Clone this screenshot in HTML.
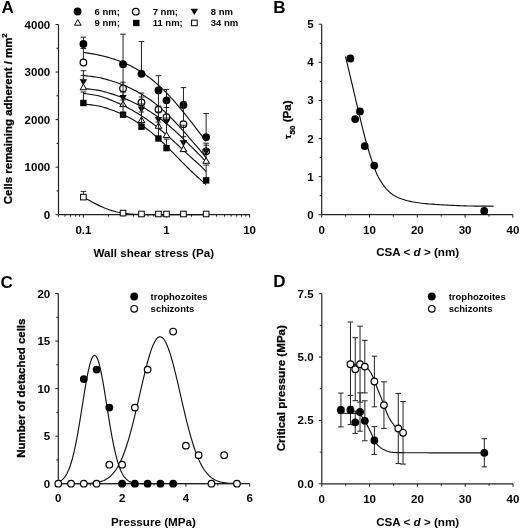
<!DOCTYPE html>
<html><head><meta charset="utf-8"><style>
html,body{margin:0;padding:0;background:#fff;}
svg{display:block;will-change:transform;}
text{font-family:"Liberation Sans", sans-serif;fill:#000;}
</style></head><body>
<svg width="520" height="529" viewBox="0 0 520 529">
<rect width="520" height="529" fill="#fff"/>
<line x1="58.50" y1="24.50" x2="58.50" y2="214.70" stroke="#222" stroke-width="1.2"/>
<line x1="58.50" y1="214.70" x2="250.00" y2="214.70" stroke="#222" stroke-width="1.2"/>
<line x1="55.50" y1="214.70" x2="58.50" y2="214.70" stroke="#222" stroke-width="1.0"/>
<line x1="56.50" y1="190.92" x2="58.50" y2="190.92" stroke="#222" stroke-width="1.0"/>
<line x1="55.50" y1="167.15" x2="58.50" y2="167.15" stroke="#222" stroke-width="1.0"/>
<line x1="56.50" y1="143.38" x2="58.50" y2="143.38" stroke="#222" stroke-width="1.0"/>
<line x1="55.50" y1="119.60" x2="58.50" y2="119.60" stroke="#222" stroke-width="1.0"/>
<line x1="56.50" y1="95.82" x2="58.50" y2="95.82" stroke="#222" stroke-width="1.0"/>
<line x1="55.50" y1="72.05" x2="58.50" y2="72.05" stroke="#222" stroke-width="1.0"/>
<line x1="56.50" y1="48.27" x2="58.50" y2="48.27" stroke="#222" stroke-width="1.0"/>
<line x1="55.50" y1="24.50" x2="58.50" y2="24.50" stroke="#222" stroke-width="1.0"/>
<text x="50.20" y="218.70" font-size="11.5" font-weight="bold" text-anchor="end">0</text>
<text x="50.20" y="171.15" font-size="11.5" font-weight="bold" text-anchor="end">1000</text>
<text x="50.20" y="123.60" font-size="11.5" font-weight="bold" text-anchor="end">2000</text>
<text x="50.20" y="76.05" font-size="11.5" font-weight="bold" text-anchor="end">3000</text>
<text x="50.20" y="28.50" font-size="11.5" font-weight="bold" text-anchor="end">4000</text>
<line x1="58.38" y1="214.70" x2="58.38" y2="216.70" stroke="#222" stroke-width="1.0"/>
<line x1="64.96" y1="214.70" x2="64.96" y2="216.70" stroke="#222" stroke-width="1.0"/>
<line x1="70.53" y1="214.70" x2="70.53" y2="216.70" stroke="#222" stroke-width="1.0"/>
<line x1="75.35" y1="214.70" x2="75.35" y2="216.70" stroke="#222" stroke-width="1.0"/>
<line x1="79.60" y1="214.70" x2="79.60" y2="216.70" stroke="#222" stroke-width="1.0"/>
<line x1="83.40" y1="214.70" x2="83.40" y2="217.70" stroke="#222" stroke-width="1.0"/>
<line x1="108.42" y1="214.70" x2="108.42" y2="216.70" stroke="#222" stroke-width="1.0"/>
<line x1="123.05" y1="214.70" x2="123.05" y2="216.70" stroke="#222" stroke-width="1.0"/>
<line x1="133.43" y1="214.70" x2="133.43" y2="216.70" stroke="#222" stroke-width="1.0"/>
<line x1="141.48" y1="214.70" x2="141.48" y2="216.70" stroke="#222" stroke-width="1.0"/>
<line x1="148.06" y1="214.70" x2="148.06" y2="216.70" stroke="#222" stroke-width="1.0"/>
<line x1="153.63" y1="214.70" x2="153.63" y2="216.70" stroke="#222" stroke-width="1.0"/>
<line x1="158.45" y1="214.70" x2="158.45" y2="216.70" stroke="#222" stroke-width="1.0"/>
<line x1="162.70" y1="214.70" x2="162.70" y2="216.70" stroke="#222" stroke-width="1.0"/>
<line x1="166.50" y1="214.70" x2="166.50" y2="217.70" stroke="#222" stroke-width="1.0"/>
<line x1="191.52" y1="214.70" x2="191.52" y2="216.70" stroke="#222" stroke-width="1.0"/>
<line x1="206.15" y1="214.70" x2="206.15" y2="216.70" stroke="#222" stroke-width="1.0"/>
<line x1="216.53" y1="214.70" x2="216.53" y2="216.70" stroke="#222" stroke-width="1.0"/>
<line x1="224.58" y1="214.70" x2="224.58" y2="216.70" stroke="#222" stroke-width="1.0"/>
<line x1="231.16" y1="214.70" x2="231.16" y2="216.70" stroke="#222" stroke-width="1.0"/>
<line x1="236.73" y1="214.70" x2="236.73" y2="216.70" stroke="#222" stroke-width="1.0"/>
<line x1="241.55" y1="214.70" x2="241.55" y2="216.70" stroke="#222" stroke-width="1.0"/>
<line x1="245.80" y1="214.70" x2="245.80" y2="216.70" stroke="#222" stroke-width="1.0"/>
<line x1="249.60" y1="214.70" x2="249.60" y2="217.70" stroke="#222" stroke-width="1.0"/>
<text x="83.40" y="233.70" font-size="11.5" font-weight="bold" text-anchor="middle">0.1</text>
<text x="166.50" y="233.70" font-size="11.5" font-weight="bold" text-anchor="middle">1</text>
<text x="249.60" y="233.70" font-size="11.5" font-weight="bold" text-anchor="middle">10</text>
<text x="153.80" y="256.50" font-size="11.65" font-weight="bold" text-anchor="middle">Wall shear stress (Pa)</text>
<text x="12.40" y="118.70" font-size="11.45" font-weight="bold" text-anchor="middle" transform="rotate(-90 12.40 118.70)" stroke="#000" stroke-width="0.3">Cells remaining adherent / mm<tspan dy="-5.5" font-size="8">2</tspan></text>
<text x="1.60" y="13.40" font-size="17" font-weight="bold" text-anchor="start">A</text>
<circle cx="77.60" cy="11.50" r="3.90" fill="#000"/>
<circle cx="135.80" cy="11.70" r="3.30" fill="#fff" stroke="#000" stroke-width="1.2"/>
<path d="M190.60,8.80 L198.00,8.80 L194.30,15.00 Z" fill="#000"/>
<path d="M77.80,19.60 L81.10,25.20 L74.50,25.20 Z" fill="#fff" stroke="#000" stroke-width="1" stroke-linejoin="miter"/>
<rect x="133.10" y="19.80" width="6.4" height="6.4" fill="#000"/>
<rect x="191.60" y="20.10" width="5.6" height="5.6" fill="#fff" stroke="#000" stroke-width="1"/>
<text x="94.60" y="14.80" font-size="9.5" font-weight="bold" text-anchor="start">6 nm;</text>
<text x="152.70" y="14.80" font-size="9.5" font-weight="bold" text-anchor="start">7 nm;</text>
<text x="210.80" y="14.80" font-size="9.5" font-weight="bold" text-anchor="start">8 nm</text>
<text x="94.60" y="25.80" font-size="9.5" font-weight="bold" text-anchor="start">9 nm;</text>
<text x="152.70" y="25.80" font-size="9.5" font-weight="bold" text-anchor="start">11 nm;</text>
<text x="210.80" y="25.80" font-size="9.5" font-weight="bold" text-anchor="start">34 nm</text>
<path d="M83.40,52.46 L84.93,52.68 L86.47,52.90 L88.00,53.13 L89.54,53.38 L91.07,53.63 L92.61,53.90 L94.14,54.18 L95.67,54.47 L97.21,54.78 L98.74,55.10 L100.28,55.43 L101.81,55.78 L103.35,56.14 L104.88,56.52 L106.42,56.92 L107.95,57.33 L109.48,57.76 L111.02,58.21 L112.55,58.68 L114.09,59.17 L115.62,59.68 L117.16,60.21 L118.69,60.77 L120.22,61.34 L121.76,61.94 L123.29,62.57 L124.83,63.22 L126.36,63.89 L127.90,64.60 L129.43,65.33 L130.97,66.08 L132.50,66.87 L134.03,67.69 L135.57,68.54 L137.10,69.41 L138.64,70.32 L140.17,71.27 L141.71,72.24 L143.24,73.25 L144.77,74.30 L146.31,75.38 L147.84,76.49 L149.38,77.64 L150.91,78.82 L152.45,80.05 L153.98,81.30 L155.51,82.60 L157.05,83.93 L158.58,85.30 L160.12,86.70 L161.65,88.15 L163.19,89.62 L164.72,91.14 L166.26,92.69 L167.79,94.27 L169.32,95.89 L170.86,97.54 L172.39,99.22 L173.93,100.94 L175.46,102.68 L177.00,104.46 L178.53,106.26 L180.06,108.09 L181.60,109.94 L183.13,111.82 L184.67,113.71 L186.20,115.63 L187.74,117.56 L189.27,119.51 L190.81,121.47 L192.34,123.45 L193.87,125.43 L195.41,127.42 L196.94,129.41 L198.48,131.41 L200.01,133.40 L201.55,135.39 L203.08,137.38 L204.61,139.36 L206.15,141.34" fill="none" stroke="#111" stroke-width="1.15"/>
<path d="M83.40,75.54 L84.93,75.70 L86.47,75.86 L88.00,76.03 L89.54,76.22 L91.07,76.41 L92.61,76.61 L94.14,76.82 L95.67,77.05 L97.21,77.28 L98.74,77.53 L100.28,77.80 L101.81,78.18 L103.35,78.57 L104.88,78.98 L106.42,79.40 L107.95,79.83 L109.48,80.28 L111.02,80.75 L112.55,81.23 L114.09,81.72 L115.62,82.24 L117.16,82.77 L118.69,83.32 L120.22,83.89 L121.76,84.48 L123.29,85.09 L124.83,85.72 L126.36,86.37 L127.90,87.05 L129.43,87.74 L130.97,88.46 L132.50,89.21 L134.03,89.98 L135.57,90.78 L137.10,91.60 L138.64,92.45 L140.17,93.33 L141.71,94.24 L143.24,95.18 L144.77,96.15 L146.31,97.15 L147.84,98.18 L149.38,99.24 L150.91,100.34 L152.45,101.47 L153.98,102.63 L155.51,103.83 L157.05,105.06 L158.58,106.32 L160.12,107.62 L161.65,108.95 L163.19,110.31 L164.72,111.71 L166.26,113.14 L167.79,114.60 L169.32,116.09 L170.86,117.61 L172.39,119.17 L173.93,120.75 L175.46,122.35 L177.00,123.99 L178.53,125.64 L180.06,127.32 L181.60,129.02 L183.13,130.74 L184.67,132.47 L186.20,134.22 L187.74,135.99 L189.27,137.76 L190.81,139.54 L192.34,141.32 L193.87,143.11 L195.41,144.89 L196.94,146.68 L198.48,148.46 L200.01,150.23 L201.55,152.11 L203.08,153.96 L204.61,155.81 L206.15,157.64" fill="none" stroke="#111" stroke-width="1.15"/>
<path d="M83.40,88.45 L84.93,88.60 L86.47,88.76 L88.00,88.93 L89.54,89.11 L91.07,89.29 L92.61,89.49 L94.14,89.70 L95.67,89.91 L97.21,90.14 L98.74,90.37 L100.28,90.64 L101.81,91.04 L103.35,91.45 L104.88,91.87 L106.42,92.30 L107.95,92.74 L109.48,93.20 L111.02,93.67 L112.55,94.16 L114.09,94.66 L115.62,95.18 L117.16,95.71 L118.69,96.25 L120.22,96.81 L121.76,97.39 L123.29,97.98 L124.83,98.60 L126.36,99.22 L127.90,99.87 L129.43,100.54 L130.97,101.22 L132.50,101.93 L134.03,102.66 L135.57,103.40 L137.10,104.17 L138.64,104.96 L140.17,105.78 L141.71,106.61 L143.24,107.47 L144.77,108.36 L146.31,109.26 L147.84,110.20 L149.38,111.16 L150.91,112.14 L152.45,113.15 L153.98,114.19 L155.51,115.25 L157.05,116.34 L158.58,117.46 L160.12,118.60 L161.65,119.77 L163.19,120.97 L164.72,122.19 L166.26,123.44 L167.79,124.71 L169.32,126.01 L170.86,127.33 L172.39,128.67 L173.93,130.04 L175.46,131.43 L177.00,132.83 L178.53,134.26 L180.06,135.70 L181.60,137.16 L183.13,138.64 L184.67,140.12 L186.20,141.62 L187.74,143.13 L189.27,144.65 L190.81,146.17 L192.34,147.70 L193.87,149.23 L195.41,150.76 L196.94,152.28 L198.48,153.81 L200.01,155.33 L201.55,156.98 L203.08,158.62 L204.61,160.25 L206.15,161.86" fill="none" stroke="#111" stroke-width="1.15"/>
<path d="M83.40,93.39 L84.93,93.59 L86.47,93.79 L88.00,94.01 L89.54,94.24 L91.07,94.48 L92.61,94.73 L94.14,94.99 L95.67,95.26 L97.21,95.55 L98.74,95.85 L100.28,96.19 L101.81,96.71 L103.35,97.23 L104.88,97.77 L106.42,98.33 L107.95,98.90 L109.48,99.49 L111.02,100.09 L112.55,100.71 L114.09,101.35 L115.62,102.00 L117.16,102.67 L118.69,103.35 L120.22,104.06 L121.76,104.78 L123.29,105.52 L124.83,106.27 L126.36,107.05 L127.90,107.85 L129.43,108.66 L130.97,109.50 L132.50,110.36 L134.03,111.23 L135.57,112.13 L137.10,113.05 L138.64,113.99 L140.17,114.95 L141.71,115.94 L143.24,116.94 L144.77,117.97 L146.31,119.02 L147.84,120.10 L149.38,121.19 L150.91,122.31 L152.45,123.45 L153.98,124.62 L155.51,125.80 L157.05,127.01 L158.58,128.23 L160.12,129.48 L161.65,130.74 L163.19,132.03 L164.72,133.33 L166.26,134.65 L167.79,135.99 L169.32,137.34 L170.86,138.71 L172.39,140.09 L173.93,141.48 L175.46,142.88 L177.00,144.28 L178.53,145.70 L180.06,147.12 L181.60,148.55 L183.13,149.98 L184.67,151.40 L186.20,152.83 L187.74,154.26 L189.27,155.68 L190.81,157.09 L192.34,158.50 L193.87,159.90 L195.41,161.29 L196.94,162.66 L198.48,164.02 L200.01,165.37 L201.55,166.88 L203.08,168.38 L204.61,169.86 L206.15,171.31" fill="none" stroke="#111" stroke-width="1.15"/>
<path d="M83.40,103.98 L84.93,104.14 L86.47,104.31 L88.00,104.48 L89.54,104.67 L91.07,104.86 L92.61,105.07 L94.14,105.29 L95.67,105.52 L97.21,105.76 L98.74,106.02 L100.28,106.32 L101.81,106.76 L103.35,107.20 L104.88,107.67 L106.42,108.15 L107.95,108.65 L109.48,109.17 L111.02,109.70 L112.55,110.25 L114.09,110.83 L115.62,111.42 L117.16,112.03 L118.69,112.67 L120.22,113.32 L121.76,114.00 L123.29,114.71 L124.83,115.43 L126.36,116.19 L127.90,116.96 L129.43,117.77 L130.97,118.60 L132.50,119.46 L134.03,120.35 L135.57,121.27 L137.10,122.22 L138.64,123.19 L140.17,124.20 L141.71,125.24 L143.24,126.32 L144.77,127.42 L146.31,128.55 L147.84,129.72 L149.38,130.92 L150.91,132.15 L152.45,133.41 L153.98,134.70 L155.51,136.02 L157.05,137.37 L158.58,138.75 L160.12,140.16 L161.65,141.59 L163.19,143.04 L164.72,144.51 L166.26,146.01 L167.79,147.52 L169.32,149.05 L170.86,150.60 L172.39,152.15 L173.93,153.72 L175.46,155.29 L177.00,156.86 L178.53,158.44 L180.06,160.01 L181.60,161.58 L183.13,163.14 L184.67,164.69 L186.20,166.23 L187.74,167.75 L189.27,169.26 L190.81,170.75 L192.34,172.21 L193.87,173.65 L195.41,175.07 L196.94,176.45 L198.48,177.81 L200.01,179.14 L201.55,180.57 L203.08,181.98 L204.61,183.35 L206.15,184.68" fill="none" stroke="#111" stroke-width="1.15"/>
<path d="M83.40,197.11 L85.45,198.30 L87.49,199.47 L89.54,200.62 L91.58,201.74 L93.63,202.83 L95.67,203.88 L97.72,204.89 L99.77,205.86 L101.81,206.78 L103.86,207.66 L105.90,208.47 L107.95,209.24 L110.00,209.94 L112.04,210.59 L114.09,211.18 L116.13,211.71 L118.18,212.19 L120.22,212.61 L122.27,212.98 L124.32,213.30 L126.36,213.57 L128.41,213.80 L130.45,214.00 L132.50,214.16 L134.55,214.29 L136.59,214.39 L138.64,214.47 L140.68,214.53 L142.73,214.58 L144.77,214.62 L146.82,214.64 L148.87,214.66 L150.91,214.68 L152.96,214.68 L155.00,214.69 L157.05,214.69 L159.10,214.70 L161.14,214.70 L163.19,214.70 L165.23,214.70 L167.28,214.70 L169.32,214.70 L171.37,214.70 L173.42,214.70 L175.46,214.70 L177.51,214.70 L179.55,214.70 L181.60,214.70 L183.64,214.70 L185.69,214.70 L187.74,214.70 L189.78,214.70 L191.83,214.70 L193.87,214.70 L195.92,214.70 L197.97,214.70 L200.01,214.70 L202.06,214.70 L204.10,214.70 L206.15,214.70" fill="none" stroke="#111" stroke-width="1.15"/>
<line x1="83.40" y1="37.20" x2="83.40" y2="44.00" stroke="#222" stroke-width="1"/>
<line x1="80.60" y1="37.20" x2="86.20" y2="37.20" stroke="#222" stroke-width="1"/>
<line x1="123.05" y1="34.20" x2="123.05" y2="64.20" stroke="#222" stroke-width="1"/>
<line x1="120.25" y1="34.20" x2="125.85" y2="34.20" stroke="#222" stroke-width="1"/>
<line x1="141.48" y1="41.60" x2="141.48" y2="73.80" stroke="#222" stroke-width="1"/>
<line x1="138.68" y1="41.60" x2="144.28" y2="41.60" stroke="#222" stroke-width="1"/>
<line x1="158.45" y1="75.70" x2="158.45" y2="90.40" stroke="#222" stroke-width="1"/>
<line x1="155.65" y1="75.70" x2="161.25" y2="75.70" stroke="#222" stroke-width="1"/>
<line x1="166.50" y1="89.40" x2="166.50" y2="100.30" stroke="#222" stroke-width="1"/>
<line x1="163.70" y1="89.40" x2="169.30" y2="89.40" stroke="#222" stroke-width="1"/>
<line x1="183.46" y1="87.60" x2="183.46" y2="105.00" stroke="#222" stroke-width="1"/>
<line x1="180.66" y1="87.60" x2="186.26" y2="87.60" stroke="#222" stroke-width="1"/>
<line x1="206.15" y1="113.60" x2="206.15" y2="137.10" stroke="#222" stroke-width="1"/>
<line x1="203.35" y1="113.60" x2="208.95" y2="113.60" stroke="#222" stroke-width="1"/>
<circle cx="83.40" cy="44.00" r="3.90" fill="#000"/>
<circle cx="123.05" cy="64.20" r="3.90" fill="#000"/>
<circle cx="141.48" cy="73.80" r="3.90" fill="#000"/>
<circle cx="158.45" cy="90.40" r="3.90" fill="#000"/>
<circle cx="166.50" cy="100.30" r="3.90" fill="#000"/>
<circle cx="183.46" cy="105.00" r="3.90" fill="#000"/>
<circle cx="206.15" cy="137.10" r="3.90" fill="#000"/>
<line x1="83.40" y1="48.50" x2="83.40" y2="62.50" stroke="#222" stroke-width="1"/>
<line x1="80.60" y1="48.50" x2="86.20" y2="48.50" stroke="#222" stroke-width="1"/>
<line x1="123.05" y1="66.00" x2="123.05" y2="88.40" stroke="#222" stroke-width="1"/>
<line x1="120.25" y1="66.00" x2="125.85" y2="66.00" stroke="#222" stroke-width="1"/>
<line x1="141.48" y1="97.00" x2="141.48" y2="102.50" stroke="#222" stroke-width="1"/>
<line x1="138.68" y1="97.00" x2="144.28" y2="97.00" stroke="#222" stroke-width="1"/>
<line x1="158.45" y1="88.00" x2="158.45" y2="109.60" stroke="#222" stroke-width="1"/>
<line x1="155.65" y1="88.00" x2="161.25" y2="88.00" stroke="#222" stroke-width="1"/>
<line x1="166.50" y1="101.00" x2="166.50" y2="117.20" stroke="#222" stroke-width="1"/>
<line x1="163.70" y1="101.00" x2="169.30" y2="101.00" stroke="#222" stroke-width="1"/>
<line x1="183.46" y1="102.00" x2="183.46" y2="124.20" stroke="#222" stroke-width="1"/>
<line x1="180.66" y1="102.00" x2="186.26" y2="102.00" stroke="#222" stroke-width="1"/>
<line x1="206.15" y1="143.20" x2="206.15" y2="151.30" stroke="#222" stroke-width="1"/>
<line x1="203.35" y1="143.20" x2="208.95" y2="143.20" stroke="#222" stroke-width="1"/>
<circle cx="83.40" cy="62.50" r="3.30" fill="#fff" stroke="#000" stroke-width="1.2"/>
<circle cx="123.05" cy="88.40" r="3.30" fill="#fff" stroke="#000" stroke-width="1.2"/>
<circle cx="141.48" cy="102.50" r="3.30" fill="#fff" stroke="#000" stroke-width="1.2"/>
<circle cx="158.45" cy="109.60" r="3.30" fill="#fff" stroke="#000" stroke-width="1.2"/>
<circle cx="166.50" cy="117.20" r="3.30" fill="#fff" stroke="#000" stroke-width="1.2"/>
<circle cx="183.46" cy="124.20" r="3.30" fill="#fff" stroke="#000" stroke-width="1.2"/>
<circle cx="206.15" cy="151.30" r="3.30" fill="#fff" stroke="#000" stroke-width="1.2"/>
<line x1="83.40" y1="70.70" x2="83.40" y2="82.30" stroke="#222" stroke-width="1"/>
<line x1="80.60" y1="70.70" x2="86.20" y2="70.70" stroke="#222" stroke-width="1"/>
<line x1="123.05" y1="82.20" x2="123.05" y2="98.00" stroke="#222" stroke-width="1"/>
<line x1="120.25" y1="82.20" x2="125.85" y2="82.20" stroke="#222" stroke-width="1"/>
<line x1="141.48" y1="93.10" x2="141.48" y2="109.60" stroke="#222" stroke-width="1"/>
<line x1="138.68" y1="93.10" x2="144.28" y2="93.10" stroke="#222" stroke-width="1"/>
<line x1="158.45" y1="106.00" x2="158.45" y2="119.90" stroke="#222" stroke-width="1"/>
<line x1="155.65" y1="106.00" x2="161.25" y2="106.00" stroke="#222" stroke-width="1"/>
<line x1="166.50" y1="107.50" x2="166.50" y2="122.20" stroke="#222" stroke-width="1"/>
<line x1="163.70" y1="107.50" x2="169.30" y2="107.50" stroke="#222" stroke-width="1"/>
<line x1="183.46" y1="125.20" x2="183.46" y2="143.20" stroke="#222" stroke-width="1"/>
<line x1="180.66" y1="125.20" x2="186.26" y2="125.20" stroke="#222" stroke-width="1"/>
<line x1="206.15" y1="145.10" x2="206.15" y2="152.00" stroke="#222" stroke-width="1"/>
<line x1="203.35" y1="145.10" x2="208.95" y2="145.10" stroke="#222" stroke-width="1"/>
<path d="M79.70,79.30 L87.10,79.30 L83.40,85.50 Z" fill="#000"/>
<path d="M119.35,95.00 L126.75,95.00 L123.05,101.20 Z" fill="#000"/>
<path d="M137.78,106.60 L145.18,106.60 L141.48,112.80 Z" fill="#000"/>
<path d="M154.75,116.90 L162.15,116.90 L158.45,123.10 Z" fill="#000"/>
<path d="M162.80,119.20 L170.20,119.20 L166.50,125.40 Z" fill="#000"/>
<path d="M179.76,140.20 L187.16,140.20 L183.46,146.40 Z" fill="#000"/>
<path d="M202.45,149.00 L209.85,149.00 L206.15,155.20 Z" fill="#000"/>
<line x1="83.40" y1="75.30" x2="83.40" y2="87.20" stroke="#222" stroke-width="1"/>
<line x1="80.60" y1="75.30" x2="86.20" y2="75.30" stroke="#222" stroke-width="1"/>
<line x1="123.05" y1="92.00" x2="123.05" y2="104.00" stroke="#222" stroke-width="1"/>
<line x1="120.25" y1="92.00" x2="125.85" y2="92.00" stroke="#222" stroke-width="1"/>
<line x1="141.48" y1="104.00" x2="141.48" y2="119.90" stroke="#222" stroke-width="1"/>
<line x1="138.68" y1="104.00" x2="144.28" y2="104.00" stroke="#222" stroke-width="1"/>
<line x1="158.45" y1="112.00" x2="158.45" y2="125.70" stroke="#222" stroke-width="1"/>
<line x1="155.65" y1="112.00" x2="161.25" y2="112.00" stroke="#222" stroke-width="1"/>
<line x1="166.50" y1="118.00" x2="166.50" y2="135.00" stroke="#222" stroke-width="1"/>
<line x1="163.70" y1="118.00" x2="169.30" y2="118.00" stroke="#222" stroke-width="1"/>
<line x1="183.46" y1="136.70" x2="183.46" y2="149.00" stroke="#222" stroke-width="1"/>
<line x1="180.66" y1="136.70" x2="186.26" y2="136.70" stroke="#222" stroke-width="1"/>
<line x1="206.15" y1="150.00" x2="206.15" y2="160.70" stroke="#222" stroke-width="1"/>
<line x1="203.35" y1="150.00" x2="208.95" y2="150.00" stroke="#222" stroke-width="1"/>
<path d="M83.40,84.20 L86.70,89.80 L80.10,89.80 Z" fill="#fff" stroke="#000" stroke-width="1" stroke-linejoin="miter"/>
<path d="M123.05,101.00 L126.35,106.60 L119.75,106.60 Z" fill="#fff" stroke="#000" stroke-width="1" stroke-linejoin="miter"/>
<path d="M141.48,116.90 L144.78,122.50 L138.18,122.50 Z" fill="#fff" stroke="#000" stroke-width="1" stroke-linejoin="miter"/>
<path d="M158.45,122.70 L161.75,128.30 L155.15,128.30 Z" fill="#fff" stroke="#000" stroke-width="1" stroke-linejoin="miter"/>
<path d="M166.50,132.00 L169.80,137.60 L163.20,137.60 Z" fill="#fff" stroke="#000" stroke-width="1" stroke-linejoin="miter"/>
<path d="M183.46,146.00 L186.76,151.60 L180.16,151.60 Z" fill="#fff" stroke="#000" stroke-width="1" stroke-linejoin="miter"/>
<path d="M206.15,157.70 L209.45,163.30 L202.85,163.30 Z" fill="#fff" stroke="#000" stroke-width="1" stroke-linejoin="miter"/>
<line x1="83.40" y1="92.00" x2="83.40" y2="103.00" stroke="#222" stroke-width="1"/>
<line x1="80.60" y1="92.00" x2="86.20" y2="92.00" stroke="#222" stroke-width="1"/>
<line x1="123.05" y1="100.00" x2="123.05" y2="114.70" stroke="#222" stroke-width="1"/>
<line x1="120.25" y1="100.00" x2="125.85" y2="100.00" stroke="#222" stroke-width="1"/>
<line x1="141.48" y1="112.00" x2="141.48" y2="126.70" stroke="#222" stroke-width="1"/>
<line x1="138.68" y1="112.00" x2="144.28" y2="112.00" stroke="#222" stroke-width="1"/>
<line x1="158.45" y1="122.00" x2="158.45" y2="138.50" stroke="#222" stroke-width="1"/>
<line x1="155.65" y1="122.00" x2="161.25" y2="122.00" stroke="#222" stroke-width="1"/>
<line x1="166.50" y1="139.10" x2="166.50" y2="148.10" stroke="#222" stroke-width="1"/>
<line x1="163.70" y1="139.10" x2="169.30" y2="139.10" stroke="#222" stroke-width="1"/>
<line x1="206.15" y1="165.00" x2="206.15" y2="180.40" stroke="#222" stroke-width="1"/>
<line x1="203.35" y1="165.00" x2="208.95" y2="165.00" stroke="#222" stroke-width="1"/>
<rect x="80.20" y="99.80" width="6.4" height="6.4" fill="#000"/>
<rect x="119.85" y="111.50" width="6.4" height="6.4" fill="#000"/>
<rect x="138.28" y="123.50" width="6.4" height="6.4" fill="#000"/>
<rect x="155.25" y="135.30" width="6.4" height="6.4" fill="#000"/>
<rect x="163.30" y="144.90" width="6.4" height="6.4" fill="#000"/>
<rect x="202.95" y="177.20" width="6.4" height="6.4" fill="#000"/>
<line x1="83.40" y1="191.40" x2="83.40" y2="197.10" stroke="#222" stroke-width="1"/>
<line x1="80.60" y1="191.40" x2="86.20" y2="191.40" stroke="#222" stroke-width="1"/>
<rect x="80.60" y="194.30" width="5.6" height="5.6" fill="#fff" stroke="#000" stroke-width="1"/>
<rect x="120.25" y="210.30" width="5.6" height="5.6" fill="#fff" stroke="#000" stroke-width="1"/>
<rect x="138.68" y="211.20" width="5.6" height="5.6" fill="#fff" stroke="#000" stroke-width="1"/>
<rect x="155.65" y="211.20" width="5.6" height="5.6" fill="#fff" stroke="#000" stroke-width="1"/>
<rect x="163.70" y="211.20" width="5.6" height="5.6" fill="#fff" stroke="#000" stroke-width="1"/>
<rect x="180.66" y="211.20" width="5.6" height="5.6" fill="#fff" stroke="#000" stroke-width="1"/>
<rect x="203.35" y="211.20" width="5.6" height="5.6" fill="#fff" stroke="#000" stroke-width="1"/>
<line x1="321.70" y1="24.20" x2="321.70" y2="214.70" stroke="#222" stroke-width="1.2"/>
<line x1="321.70" y1="214.70" x2="512.90" y2="214.70" stroke="#222" stroke-width="1.2"/>
<line x1="318.70" y1="214.70" x2="321.70" y2="214.70" stroke="#222" stroke-width="1.0"/>
<line x1="319.70" y1="195.65" x2="321.70" y2="195.65" stroke="#222" stroke-width="1.0"/>
<line x1="318.70" y1="176.60" x2="321.70" y2="176.60" stroke="#222" stroke-width="1.0"/>
<line x1="319.70" y1="157.55" x2="321.70" y2="157.55" stroke="#222" stroke-width="1.0"/>
<line x1="318.70" y1="138.50" x2="321.70" y2="138.50" stroke="#222" stroke-width="1.0"/>
<line x1="319.70" y1="119.45" x2="321.70" y2="119.45" stroke="#222" stroke-width="1.0"/>
<line x1="318.70" y1="100.40" x2="321.70" y2="100.40" stroke="#222" stroke-width="1.0"/>
<line x1="319.70" y1="81.35" x2="321.70" y2="81.35" stroke="#222" stroke-width="1.0"/>
<line x1="318.70" y1="62.30" x2="321.70" y2="62.30" stroke="#222" stroke-width="1.0"/>
<line x1="319.70" y1="43.25" x2="321.70" y2="43.25" stroke="#222" stroke-width="1.0"/>
<line x1="318.70" y1="24.20" x2="321.70" y2="24.20" stroke="#222" stroke-width="1.0"/>
<text x="313.60" y="218.70" font-size="11.5" font-weight="bold" text-anchor="end">0</text>
<text x="313.60" y="180.60" font-size="11.5" font-weight="bold" text-anchor="end">1</text>
<text x="313.60" y="142.50" font-size="11.5" font-weight="bold" text-anchor="end">2</text>
<text x="313.60" y="104.40" font-size="11.5" font-weight="bold" text-anchor="end">3</text>
<text x="313.60" y="66.30" font-size="11.5" font-weight="bold" text-anchor="end">4</text>
<text x="313.60" y="28.20" font-size="11.5" font-weight="bold" text-anchor="end">5</text>
<line x1="321.70" y1="214.70" x2="321.70" y2="217.70" stroke="#222" stroke-width="1.0"/>
<line x1="345.60" y1="214.70" x2="345.60" y2="216.70" stroke="#222" stroke-width="1.0"/>
<line x1="369.50" y1="214.70" x2="369.50" y2="217.70" stroke="#222" stroke-width="1.0"/>
<line x1="393.40" y1="214.70" x2="393.40" y2="216.70" stroke="#222" stroke-width="1.0"/>
<line x1="417.30" y1="214.70" x2="417.30" y2="217.70" stroke="#222" stroke-width="1.0"/>
<line x1="441.20" y1="214.70" x2="441.20" y2="216.70" stroke="#222" stroke-width="1.0"/>
<line x1="465.10" y1="214.70" x2="465.10" y2="217.70" stroke="#222" stroke-width="1.0"/>
<line x1="489.00" y1="214.70" x2="489.00" y2="216.70" stroke="#222" stroke-width="1.0"/>
<line x1="512.90" y1="214.70" x2="512.90" y2="217.70" stroke="#222" stroke-width="1.0"/>
<text x="321.70" y="233.70" font-size="11.5" font-weight="bold" text-anchor="middle">0</text>
<text x="369.50" y="233.70" font-size="11.5" font-weight="bold" text-anchor="middle">10</text>
<text x="417.30" y="233.70" font-size="11.5" font-weight="bold" text-anchor="middle">20</text>
<text x="465.10" y="233.70" font-size="11.5" font-weight="bold" text-anchor="middle">30</text>
<text x="512.90" y="233.70" font-size="11.5" font-weight="bold" text-anchor="middle">40</text>
<text x="417.70" y="256.30" font-size="11.65" font-weight="bold" text-anchor="middle">CSA &lt; <tspan font-style="italic">d</tspan> &gt; (nm)</text>
<text x="291.00" y="119.80" font-size="11.65" font-weight="bold" text-anchor="middle" transform="rotate(-90 291.00 119.80)" stroke="#000" stroke-width="0.3"><tspan font-family="Liberation Serif" font-weight="bold" font-size="10.5">τ</tspan><tspan font-size="8" dy="4">50</tspan><tspan dy="-4"> (Pa)</tspan></text>
<text x="273.30" y="13.20" font-size="17" font-weight="bold" text-anchor="start">B</text>
<path d="M345.50,56.30 L345.80,57.57 L346.17,59.15 L346.61,61.01 L347.11,63.09 L347.64,65.35 L348.21,67.76 L348.80,70.25 L349.40,72.79 L350.00,75.33 L350.59,77.82 L351.16,80.23 L351.70,82.50 L352.21,84.67 L352.71,86.80 L353.21,88.92 L353.70,91.02 L354.19,93.13 L354.68,95.24 L355.18,97.38 L355.69,99.56 L356.22,101.77 L356.76,104.05 L357.32,106.38 L357.90,108.80 L358.51,111.33 L359.14,113.97 L359.80,116.72 L360.47,119.53 L361.16,122.39 L361.85,125.26 L362.55,128.13 L363.26,130.97 L363.96,133.75 L364.65,136.45 L365.33,139.04 L366.00,141.50 L366.66,143.86 L367.33,146.18 L368.00,148.45 L368.66,150.66 L369.33,152.82 L369.99,154.92 L370.64,156.95 L371.29,158.91 L371.93,160.81 L372.55,162.62 L373.16,164.35 L373.75,166.00 L374.31,167.54 L374.84,168.96 L375.33,170.27 L375.81,171.50 L376.27,172.65 L376.73,173.75 L377.21,174.80 L377.69,175.83 L378.21,176.85 L378.76,177.87 L379.35,178.92 L380.00,180.00 L380.69,181.11 L381.42,182.24 L382.18,183.37 L382.96,184.49 L383.77,185.61 L384.61,186.70 L385.47,187.78 L386.34,188.81 L387.24,189.81 L388.15,190.77 L389.07,191.66 L390.00,192.50 L390.94,193.27 L391.88,193.99 L392.83,194.66 L393.80,195.29 L394.78,195.87 L395.78,196.42 L396.81,196.94 L397.87,197.44 L398.96,197.91 L400.10,198.37 L401.28,198.81 L402.50,199.25 L403.76,199.67 L405.04,200.07 L406.35,200.44 L407.69,200.79 L409.06,201.11 L410.47,201.42 L411.92,201.71 L413.43,201.99 L414.98,202.26 L416.59,202.51 L418.26,202.76 L420.00,203.00 L421.82,203.23 L423.73,203.45 L425.72,203.65 L427.78,203.83 L429.88,204.01 L432.03,204.17 L434.20,204.33 L436.39,204.47 L438.57,204.61 L440.75,204.74 L442.89,204.87 L445.00,205.00 L447.09,205.12 L449.18,205.23 L451.28,205.34 L453.38,205.44 L455.48,205.53 L457.58,205.61 L459.67,205.69 L461.76,205.76 L463.84,205.83 L465.91,205.89 L467.96,205.95 L470.00,206.00 L472.10,206.05 L474.31,206.08 L476.58,206.11 L478.89,206.13 L481.19,206.15 L483.44,206.16 L485.60,206.17 L487.64,206.18 L489.51,206.18 L491.18,206.19 L492.61,206.19 L493.75,206.20" fill="none" stroke="#111" stroke-width="1.15"/>
<circle cx="350.38" cy="58.49" r="3.90" fill="#000"/>
<circle cx="355.16" cy="119.07" r="3.90" fill="#000"/>
<circle cx="359.94" cy="111.45" r="3.90" fill="#000"/>
<circle cx="364.72" cy="146.12" r="3.90" fill="#000"/>
<circle cx="374.28" cy="165.55" r="3.90" fill="#000"/>
<circle cx="484.22" cy="210.89" r="3.90" fill="#000"/>
<line x1="58.30" y1="293.50" x2="58.30" y2="483.70" stroke="#222" stroke-width="1.2"/>
<line x1="58.30" y1="483.70" x2="249.70" y2="483.70" stroke="#222" stroke-width="1.2"/>
<line x1="55.30" y1="483.70" x2="58.30" y2="483.70" stroke="#222" stroke-width="1.0"/>
<line x1="56.30" y1="459.93" x2="58.30" y2="459.93" stroke="#222" stroke-width="1.0"/>
<line x1="55.30" y1="436.15" x2="58.30" y2="436.15" stroke="#222" stroke-width="1.0"/>
<line x1="56.30" y1="412.38" x2="58.30" y2="412.38" stroke="#222" stroke-width="1.0"/>
<line x1="55.30" y1="388.60" x2="58.30" y2="388.60" stroke="#222" stroke-width="1.0"/>
<line x1="56.30" y1="364.82" x2="58.30" y2="364.82" stroke="#222" stroke-width="1.0"/>
<line x1="55.30" y1="341.05" x2="58.30" y2="341.05" stroke="#222" stroke-width="1.0"/>
<line x1="56.30" y1="317.27" x2="58.30" y2="317.27" stroke="#222" stroke-width="1.0"/>
<line x1="55.30" y1="293.50" x2="58.30" y2="293.50" stroke="#222" stroke-width="1.0"/>
<text x="50.20" y="487.70" font-size="11.5" font-weight="bold" text-anchor="end">0</text>
<text x="50.20" y="440.15" font-size="11.5" font-weight="bold" text-anchor="end">5</text>
<text x="50.20" y="392.60" font-size="11.5" font-weight="bold" text-anchor="end">10</text>
<text x="50.20" y="345.05" font-size="11.5" font-weight="bold" text-anchor="end">15</text>
<text x="50.20" y="297.50" font-size="11.5" font-weight="bold" text-anchor="end">20</text>
<line x1="58.30" y1="483.70" x2="58.30" y2="486.70" stroke="#222" stroke-width="1.0"/>
<line x1="90.20" y1="483.70" x2="90.20" y2="485.70" stroke="#222" stroke-width="1.0"/>
<line x1="122.10" y1="483.70" x2="122.10" y2="486.70" stroke="#222" stroke-width="1.0"/>
<line x1="154.00" y1="483.70" x2="154.00" y2="485.70" stroke="#222" stroke-width="1.0"/>
<line x1="185.90" y1="483.70" x2="185.90" y2="486.70" stroke="#222" stroke-width="1.0"/>
<line x1="217.80" y1="483.70" x2="217.80" y2="485.70" stroke="#222" stroke-width="1.0"/>
<line x1="249.70" y1="483.70" x2="249.70" y2="486.70" stroke="#222" stroke-width="1.0"/>
<text x="58.30" y="502.40" font-size="11.5" font-weight="bold" text-anchor="middle">0</text>
<text x="122.10" y="502.40" font-size="11.5" font-weight="bold" text-anchor="middle">2</text>
<text x="185.90" y="502.40" font-size="11.5" font-weight="bold" text-anchor="middle">4</text>
<text x="249.70" y="502.40" font-size="11.5" font-weight="bold" text-anchor="middle">6</text>
<text x="153.50" y="525.60" font-size="11.65" font-weight="bold" text-anchor="middle">Pressure (MPa)</text>
<text x="25.20" y="388.20" font-size="11.45" font-weight="bold" text-anchor="middle" transform="rotate(-90 25.20 388.20)" stroke="#000" stroke-width="0.3">Number of detached cells</text>
<text x="0.60" y="287.80" font-size="17" font-weight="bold" text-anchor="start">C</text>
<path d="M58.30,482.06 L58.76,481.87 L59.23,481.66 L59.69,481.43 L60.15,481.17 L60.61,480.89 L61.08,480.59 L61.54,480.25 L62.00,479.89 L62.46,479.49 L62.93,479.06 L63.39,478.59 L63.85,478.08 L64.31,477.53 L64.78,476.93 L65.24,476.29 L65.70,475.60 L66.16,474.85 L66.63,474.05 L67.09,473.20 L67.55,472.28 L68.01,471.31 L68.48,470.26 L68.94,469.16 L69.40,467.98 L69.86,466.73 L70.33,465.40 L70.79,464.01 L71.25,462.53 L71.71,460.98 L72.18,459.35 L72.64,457.63 L73.10,455.84 L73.56,453.97 L74.03,452.01 L74.49,449.97 L74.95,447.86 L75.41,445.66 L75.88,443.39 L76.34,441.04 L76.80,438.62 L77.26,436.13 L77.73,433.57 L78.19,430.95 L78.65,428.27 L79.11,425.54 L79.58,422.76 L80.04,419.94 L80.50,417.08 L80.96,414.19 L81.43,411.28 L81.89,408.36 L82.35,405.43 L82.82,402.50 L83.28,399.57 L83.74,396.67 L84.20,393.80 L84.67,390.96 L85.13,388.17 L85.59,385.43 L86.05,382.76 L86.52,380.16 L86.98,377.64 L87.44,375.22 L87.90,372.90 L88.37,370.70 L88.83,368.61 L89.29,366.65 L89.75,364.82 L90.22,363.14 L90.68,361.60 L91.14,360.22 L91.60,359.01 L92.07,357.96 L92.53,357.08 L92.99,356.37 L93.45,355.84 L93.92,355.50 L94.38,355.33 L94.84,355.35 L95.30,355.54 L95.77,355.92 L96.23,356.48 L96.69,357.22 L97.15,358.13 L97.62,359.20 L98.08,360.45 L98.54,361.86 L99.00,363.42 L99.47,365.12 L99.93,366.97 L100.39,368.96 L100.85,371.07 L101.32,373.30 L101.78,375.63 L102.24,378.07 L102.70,380.60 L103.17,383.21 L103.63,385.90 L104.09,388.64 L104.55,391.44 L105.02,394.29 L105.48,397.17 L105.94,400.08 L106.41,403.00 L106.87,405.93 L107.33,408.86 L107.79,411.79 L108.26,414.69 L108.72,417.58 L109.18,420.43 L109.64,423.24 L110.11,426.01 L110.57,428.74 L111.03,431.41 L111.49,434.02 L111.96,436.56 L112.42,439.04 L112.88,441.45 L113.34,443.78 L113.81,446.04 L114.27,448.23 L114.73,450.33 L115.19,452.35 L115.66,454.29 L116.12,456.16 L116.58,457.93 L117.04,459.63 L117.51,461.25 L117.97,462.79 L118.43,464.25 L118.89,465.64 L119.36,466.95 L119.82,468.19 L120.28,469.35 L120.74,470.45 L121.21,471.48 L121.67,472.45 L122.13,473.35 L122.59,474.20 L123.06,474.99 L123.52,475.72 L123.98,476.40 L124.44,477.04 L124.91,477.62 L125.37,478.17 L125.83,478.67 L126.29,479.13 L126.76,479.56 L127.22,479.95 L127.68,480.31 L128.15,480.64 L128.61,480.94 L129.07,481.22 L129.53,481.47 L130.00,481.70 L130.46,481.90 L130.92,482.09 L131.38,482.26 L131.85,482.42 L132.31,482.56 L132.77,482.68 L133.23,482.80 L133.70,482.90 L134.16,482.99 L134.62,483.07 L135.08,483.14 L135.55,483.21 L136.01,483.27 L136.47,483.32 L136.93,483.37 L137.40,483.41 L137.86,483.44 L138.32,483.47 L138.78,483.50 L139.25,483.53 L139.71,483.55 L140.17,483.57 L140.63,483.59 L141.10,483.60 L141.56,483.61 L142.02,483.63 L142.48,483.64 L142.95,483.65 L143.41,483.65 L143.87,483.66 L144.33,483.67 L144.80,483.67 L145.26,483.67 L145.72,483.68 L146.18,483.68 L146.65,483.68 L147.11,483.69 L147.57,483.69 L148.03,483.69 L148.50,483.69 L148.96,483.69 L149.42,483.69 L149.88,483.69 L150.35,483.70 L150.81,483.70" fill="none" stroke="#111" stroke-width="1.15"/>
<path d="M77.44,483.66 L78.24,483.65 L79.03,483.65 L79.83,483.64 L80.63,483.63 L81.43,483.62 L82.22,483.60 L83.02,483.59 L83.82,483.57 L84.62,483.55 L85.41,483.52 L86.21,483.50 L87.01,483.47 L87.81,483.43 L88.60,483.39 L89.40,483.35 L90.20,483.29 L91.00,483.24 L91.79,483.17 L92.59,483.10 L93.39,483.01 L94.19,482.92 L94.98,482.81 L95.78,482.70 L96.58,482.57 L97.38,482.42 L98.17,482.26 L98.97,482.08 L99.77,481.87 L100.57,481.65 L101.36,481.40 L102.16,481.13 L102.96,480.83 L103.76,480.50 L104.55,480.14 L105.35,479.74 L106.15,479.30 L106.95,478.82 L107.74,478.30 L108.54,477.73 L109.34,477.12 L110.14,476.45 L110.94,475.72 L111.73,474.94 L112.53,474.09 L113.33,473.18 L114.12,472.19 L114.92,471.14 L115.72,470.01 L116.52,468.80 L117.31,467.51 L118.11,466.14 L118.91,464.67 L119.71,463.12 L120.50,461.48 L121.30,459.73 L122.10,457.90 L122.90,455.96 L123.69,453.93 L124.49,451.79 L125.29,449.56 L126.09,447.22 L126.88,444.79 L127.68,442.25 L128.48,439.62 L129.28,436.89 L130.07,434.07 L130.87,431.16 L131.67,428.17 L132.47,425.09 L133.26,421.94 L134.06,418.72 L134.86,415.44 L135.66,412.10 L136.45,408.71 L137.25,405.29 L138.05,401.83 L138.85,398.35 L139.64,394.86 L140.44,391.37 L141.24,387.89 L142.04,384.43 L142.83,381.01 L143.63,377.62 L144.43,374.30 L145.23,371.04 L146.02,367.87 L146.82,364.79 L147.62,361.81 L148.42,358.95 L149.21,356.22 L150.01,353.63 L150.81,351.19 L151.61,348.91 L152.41,346.81 L153.20,344.88 L154.00,343.14 L154.80,341.60 L155.59,340.27 L156.39,339.14 L157.19,338.23 L157.99,337.53 L158.78,337.06 L159.58,336.81 L160.38,336.79 L161.18,336.99 L161.97,337.42 L162.77,338.07 L163.57,338.94 L164.37,340.02 L165.16,341.32 L165.96,342.82 L166.76,344.52 L167.56,346.41 L168.36,348.48 L169.15,350.72 L169.95,353.13 L170.75,355.69 L171.55,358.39 L172.34,361.23 L173.14,364.18 L173.94,367.24 L174.73,370.40 L175.53,373.64 L176.33,376.95 L177.13,380.33 L177.93,383.74 L178.72,387.20 L179.52,390.67 L180.32,394.16 L181.12,397.65 L181.91,401.14 L182.71,404.60 L183.51,408.03 L184.31,411.43 L185.10,414.78 L185.90,418.07 L186.70,421.30 L187.50,424.47 L188.29,427.56 L189.09,430.57 L189.89,433.50 L190.69,436.33 L191.48,439.08 L192.28,441.73 L193.08,444.29 L193.88,446.74 L194.67,449.10 L195.47,451.35 L196.27,453.51 L197.06,455.56 L197.86,457.52 L198.66,459.38 L199.46,461.13 L200.25,462.80 L201.05,464.37 L201.85,465.85 L202.65,467.24 L203.44,468.55 L204.24,469.78 L205.04,470.92 L205.84,471.99 L206.63,472.99 L207.43,473.91 L208.23,474.77 L209.03,475.57 L209.82,476.31 L210.62,476.99 L211.42,477.61 L212.22,478.19 L213.01,478.72 L213.81,479.21 L214.61,479.65 L215.41,480.06 L216.20,480.43 L217.00,480.77 L217.80,481.07 L218.60,481.35 L219.39,481.60 L220.19,481.83 L220.99,482.04 L221.79,482.22 L222.58,482.39 L223.38,482.54 L224.18,482.67 L224.98,482.79 L225.77,482.90 L226.57,483.00 L227.37,483.08 L228.17,483.16 L228.96,483.22 L229.76,483.28 L230.56,483.34 L231.36,483.38 L232.15,483.42 L232.95,483.46 L233.75,483.49 L234.55,483.52 L235.34,483.54 L236.14,483.56 L236.94,483.58" fill="none" stroke="#111" stroke-width="1.15"/>
<line x1="58.30" y1="483.70" x2="236.94" y2="483.70" stroke="#222" stroke-width="1"/>
<circle cx="134.20" cy="296.50" r="3.90" fill="#000"/>
<circle cx="134.20" cy="308.80" r="3.30" fill="#fff" stroke="#000" stroke-width="1.2"/>
<text x="150.60" y="299.70" font-size="9.5" font-weight="bold" text-anchor="start">trophozoites</text>
<text x="150.60" y="312.00" font-size="9.5" font-weight="bold" text-anchor="start">schizonts</text>
<circle cx="58.30" cy="483.70" r="3.30" fill="#fff" stroke="#000" stroke-width="1.2"/>
<circle cx="71.06" cy="483.70" r="3.30" fill="#fff" stroke="#000" stroke-width="1.2"/>
<circle cx="83.82" cy="483.70" r="3.30" fill="#fff" stroke="#000" stroke-width="1.2"/>
<circle cx="96.58" cy="483.70" r="3.30" fill="#fff" stroke="#000" stroke-width="1.2"/>
<circle cx="109.34" cy="464.68" r="3.30" fill="#fff" stroke="#000" stroke-width="1.2"/>
<circle cx="122.10" cy="464.68" r="3.30" fill="#fff" stroke="#000" stroke-width="1.2"/>
<circle cx="134.86" cy="407.62" r="3.30" fill="#fff" stroke="#000" stroke-width="1.2"/>
<circle cx="147.62" cy="369.58" r="3.30" fill="#fff" stroke="#000" stroke-width="1.2"/>
<circle cx="173.14" cy="331.54" r="3.30" fill="#fff" stroke="#000" stroke-width="1.2"/>
<circle cx="185.90" cy="445.66" r="3.30" fill="#fff" stroke="#000" stroke-width="1.2"/>
<circle cx="198.66" cy="455.17" r="3.30" fill="#fff" stroke="#000" stroke-width="1.2"/>
<circle cx="211.42" cy="483.70" r="3.30" fill="#fff" stroke="#000" stroke-width="1.2"/>
<circle cx="224.18" cy="455.17" r="3.30" fill="#fff" stroke="#000" stroke-width="1.2"/>
<circle cx="236.94" cy="483.70" r="3.30" fill="#fff" stroke="#000" stroke-width="1.2"/>
<circle cx="83.82" cy="379.09" r="3.90" fill="#000"/>
<circle cx="96.58" cy="369.58" r="3.90" fill="#000"/>
<circle cx="109.34" cy="407.62" r="3.90" fill="#000"/>
<circle cx="122.10" cy="483.70" r="3.90" fill="#000"/>
<circle cx="134.86" cy="483.70" r="3.90" fill="#000"/>
<circle cx="147.62" cy="483.70" r="3.90" fill="#000"/>
<circle cx="160.38" cy="483.70" r="3.90" fill="#000"/>
<circle cx="173.14" cy="483.70" r="3.90" fill="#000"/>
<line x1="321.80" y1="293.60" x2="321.80" y2="483.80" stroke="#222" stroke-width="1.2"/>
<line x1="321.80" y1="483.80" x2="513.00" y2="483.80" stroke="#222" stroke-width="1.2"/>
<line x1="318.80" y1="483.80" x2="321.80" y2="483.80" stroke="#222" stroke-width="1.0"/>
<line x1="319.80" y1="452.10" x2="321.80" y2="452.10" stroke="#222" stroke-width="1.0"/>
<line x1="318.80" y1="420.40" x2="321.80" y2="420.40" stroke="#222" stroke-width="1.0"/>
<line x1="319.80" y1="388.70" x2="321.80" y2="388.70" stroke="#222" stroke-width="1.0"/>
<line x1="318.80" y1="357.00" x2="321.80" y2="357.00" stroke="#222" stroke-width="1.0"/>
<line x1="319.80" y1="325.30" x2="321.80" y2="325.30" stroke="#222" stroke-width="1.0"/>
<line x1="318.80" y1="293.60" x2="321.80" y2="293.60" stroke="#222" stroke-width="1.0"/>
<text x="313.60" y="487.80" font-size="11.5" font-weight="bold" text-anchor="end">0.0</text>
<text x="313.60" y="424.40" font-size="11.5" font-weight="bold" text-anchor="end">2.5</text>
<text x="313.60" y="361.00" font-size="11.5" font-weight="bold" text-anchor="end">5.0</text>
<text x="313.60" y="297.60" font-size="11.5" font-weight="bold" text-anchor="end">7.5</text>
<line x1="321.80" y1="483.80" x2="321.80" y2="486.80" stroke="#222" stroke-width="1.0"/>
<line x1="345.70" y1="483.80" x2="345.70" y2="485.80" stroke="#222" stroke-width="1.0"/>
<line x1="369.60" y1="483.80" x2="369.60" y2="486.80" stroke="#222" stroke-width="1.0"/>
<line x1="393.50" y1="483.80" x2="393.50" y2="485.80" stroke="#222" stroke-width="1.0"/>
<line x1="417.40" y1="483.80" x2="417.40" y2="486.80" stroke="#222" stroke-width="1.0"/>
<line x1="441.30" y1="483.80" x2="441.30" y2="485.80" stroke="#222" stroke-width="1.0"/>
<line x1="465.20" y1="483.80" x2="465.20" y2="486.80" stroke="#222" stroke-width="1.0"/>
<line x1="489.10" y1="483.80" x2="489.10" y2="485.80" stroke="#222" stroke-width="1.0"/>
<line x1="513.00" y1="483.80" x2="513.00" y2="486.80" stroke="#222" stroke-width="1.0"/>
<text x="321.80" y="502.60" font-size="11.5" font-weight="bold" text-anchor="middle">0</text>
<text x="369.60" y="502.60" font-size="11.5" font-weight="bold" text-anchor="middle">10</text>
<text x="417.40" y="502.60" font-size="11.5" font-weight="bold" text-anchor="middle">20</text>
<text x="465.20" y="502.60" font-size="11.5" font-weight="bold" text-anchor="middle">30</text>
<text x="513.00" y="502.60" font-size="11.5" font-weight="bold" text-anchor="middle">40</text>
<text x="417.70" y="526.20" font-size="11.65" font-weight="bold" text-anchor="middle">CSA &lt; <tspan font-style="italic">d</tspan> &gt; (nm)</text>
<text x="285.20" y="388.20" font-size="11.6" font-weight="bold" text-anchor="middle" transform="rotate(-90 285.20 388.20)" stroke="#000" stroke-width="0.3">Critical pressure (MPa)</text>
<text x="273.30" y="286.80" font-size="17" font-weight="bold" text-anchor="start">D</text>
<circle cx="431.80" cy="296.50" r="3.90" fill="#000"/>
<circle cx="431.80" cy="308.80" r="3.30" fill="#fff" stroke="#000" stroke-width="1.2"/>
<text x="448.70" y="299.70" font-size="9.5" font-weight="bold" text-anchor="start">trophozoites</text>
<text x="448.70" y="312.00" font-size="9.5" font-weight="bold" text-anchor="start">schizonts</text>
<line x1="350.48" y1="322.00" x2="350.48" y2="406.40" stroke="#222" stroke-width="1"/>
<line x1="347.68" y1="322.00" x2="353.28" y2="322.00" stroke="#222" stroke-width="1"/>
<line x1="347.68" y1="406.40" x2="353.28" y2="406.40" stroke="#222" stroke-width="1"/>
<line x1="355.26" y1="337.70" x2="355.26" y2="400.70" stroke="#222" stroke-width="1"/>
<line x1="352.46" y1="337.70" x2="358.06" y2="337.70" stroke="#222" stroke-width="1"/>
<line x1="352.46" y1="400.70" x2="358.06" y2="400.70" stroke="#222" stroke-width="1"/>
<line x1="360.04" y1="326.20" x2="360.04" y2="402.20" stroke="#222" stroke-width="1"/>
<line x1="357.24" y1="326.20" x2="362.84" y2="326.20" stroke="#222" stroke-width="1"/>
<line x1="357.24" y1="402.20" x2="362.84" y2="402.20" stroke="#222" stroke-width="1"/>
<line x1="364.82" y1="340.30" x2="364.82" y2="392.90" stroke="#222" stroke-width="1"/>
<line x1="362.02" y1="340.30" x2="367.62" y2="340.30" stroke="#222" stroke-width="1"/>
<line x1="362.02" y1="392.90" x2="367.62" y2="392.90" stroke="#222" stroke-width="1"/>
<line x1="374.38" y1="356.20" x2="374.38" y2="406.80" stroke="#222" stroke-width="1"/>
<line x1="371.58" y1="356.20" x2="377.18" y2="356.20" stroke="#222" stroke-width="1"/>
<line x1="371.58" y1="406.80" x2="377.18" y2="406.80" stroke="#222" stroke-width="1"/>
<line x1="383.94" y1="381.80" x2="383.94" y2="428.40" stroke="#222" stroke-width="1"/>
<line x1="381.14" y1="381.80" x2="386.74" y2="381.80" stroke="#222" stroke-width="1"/>
<line x1="381.14" y1="428.40" x2="386.74" y2="428.40" stroke="#222" stroke-width="1"/>
<line x1="398.28" y1="393.40" x2="398.28" y2="463.60" stroke="#222" stroke-width="1"/>
<line x1="395.48" y1="393.40" x2="401.08" y2="393.40" stroke="#222" stroke-width="1"/>
<line x1="395.48" y1="463.60" x2="401.08" y2="463.60" stroke="#222" stroke-width="1"/>
<line x1="403.06" y1="401.50" x2="403.06" y2="464.10" stroke="#222" stroke-width="1"/>
<line x1="400.26" y1="401.50" x2="405.86" y2="401.50" stroke="#222" stroke-width="1"/>
<line x1="400.26" y1="464.10" x2="405.86" y2="464.10" stroke="#222" stroke-width="1"/>
<line x1="340.92" y1="393.10" x2="340.92" y2="426.90" stroke="#222" stroke-width="1"/>
<line x1="338.12" y1="393.10" x2="343.72" y2="393.10" stroke="#222" stroke-width="1"/>
<line x1="338.12" y1="426.90" x2="343.72" y2="426.90" stroke="#222" stroke-width="1"/>
<line x1="350.48" y1="395.40" x2="350.48" y2="424.60" stroke="#222" stroke-width="1"/>
<line x1="347.68" y1="395.40" x2="353.28" y2="395.40" stroke="#222" stroke-width="1"/>
<line x1="347.68" y1="424.60" x2="353.28" y2="424.60" stroke="#222" stroke-width="1"/>
<line x1="355.26" y1="411.20" x2="355.26" y2="433.40" stroke="#222" stroke-width="1"/>
<line x1="352.46" y1="411.20" x2="358.06" y2="411.20" stroke="#222" stroke-width="1"/>
<line x1="352.46" y1="433.40" x2="358.06" y2="433.40" stroke="#222" stroke-width="1"/>
<line x1="360.04" y1="392.80" x2="360.04" y2="431.20" stroke="#222" stroke-width="1"/>
<line x1="357.24" y1="392.80" x2="362.84" y2="392.80" stroke="#222" stroke-width="1"/>
<line x1="357.24" y1="431.20" x2="362.84" y2="431.20" stroke="#222" stroke-width="1"/>
<line x1="364.82" y1="400.80" x2="364.82" y2="440.80" stroke="#222" stroke-width="1"/>
<line x1="362.02" y1="400.80" x2="367.62" y2="400.80" stroke="#222" stroke-width="1"/>
<line x1="362.02" y1="440.80" x2="367.62" y2="440.80" stroke="#222" stroke-width="1"/>
<line x1="374.38" y1="426.60" x2="374.38" y2="454.40" stroke="#222" stroke-width="1"/>
<line x1="371.58" y1="426.60" x2="377.18" y2="426.60" stroke="#222" stroke-width="1"/>
<line x1="371.58" y1="454.40" x2="377.18" y2="454.40" stroke="#222" stroke-width="1"/>
<line x1="484.32" y1="438.70" x2="484.32" y2="466.90" stroke="#222" stroke-width="1"/>
<line x1="481.52" y1="438.70" x2="487.12" y2="438.70" stroke="#222" stroke-width="1"/>
<line x1="481.52" y1="466.90" x2="487.12" y2="466.90" stroke="#222" stroke-width="1"/>
<path d="M337.70,413.20 L338.15,413.20 L338.71,413.21 L339.37,413.21 L340.10,413.22 L340.91,413.22 L341.76,413.23 L342.64,413.24 L343.54,413.25 L344.44,413.26 L345.33,413.27 L346.19,413.28 L347.00,413.30 L347.80,413.31 L348.63,413.32 L349.49,413.33 L350.35,413.34 L351.22,413.34 L352.07,413.36 L352.91,413.37 L353.73,413.40 L354.50,413.43 L355.23,413.47 L355.90,413.53 L356.50,413.60 L357.03,413.67 L357.49,413.73 L357.89,413.79 L358.24,413.85 L358.56,413.92 L358.85,414.00 L359.12,414.11 L359.39,414.24 L359.66,414.41 L359.94,414.62 L360.25,414.88 L360.60,415.20 L360.97,415.57 L361.35,416.00 L361.73,416.47 L362.12,416.98 L362.52,417.52 L362.91,418.10 L363.31,418.70 L363.71,419.32 L364.11,419.96 L364.51,420.60 L364.91,421.25 L365.30,421.90 L365.69,422.56 L366.09,423.24 L366.48,423.94 L366.88,424.66 L367.28,425.39 L367.68,426.13 L368.07,426.88 L368.46,427.64 L368.85,428.41 L369.24,429.17 L369.62,429.94 L370.00,430.70 L370.37,431.48 L370.75,432.28 L371.11,433.10 L371.48,433.94 L371.85,434.78 L372.21,435.61 L372.56,436.44 L372.92,437.24 L373.27,438.02 L373.62,438.76 L373.96,439.45 L374.30,440.10 L374.63,440.69 L374.94,441.25 L375.25,441.76 L375.54,442.25 L375.84,442.70 L376.13,443.14 L376.43,443.55 L376.73,443.95 L377.05,444.34 L377.38,444.73 L377.73,445.11 L378.10,445.50 L378.49,445.89 L378.88,446.26 L379.28,446.63 L379.69,446.99 L380.10,447.33 L380.54,447.67 L380.98,448.00 L381.45,448.31 L381.93,448.62 L382.43,448.92 L382.95,449.22 L383.50,449.50 L384.06,449.78 L384.62,450.05 L385.19,450.32 L385.77,450.58 L386.37,450.83 L386.99,451.07 L387.65,451.30 L388.33,451.51 L389.05,451.71 L389.82,451.89 L390.63,452.06 L391.50,452.20 L392.40,452.32 L393.30,452.42 L394.22,452.49 L395.17,452.54 L396.15,452.58 L397.19,452.61 L398.28,452.63 L399.44,452.64 L400.69,452.65 L402.02,452.67 L403.45,452.68 L405.00,452.70 L406.59,452.72 L408.16,452.74 L409.75,452.76 L411.40,452.77 L413.12,452.78 L414.95,452.78 L416.92,452.79 L419.07,452.79 L421.42,452.79 L424.00,452.79 L426.85,452.80 L430.00,452.80 L433.67,452.80 L437.98,452.81 L442.79,452.81 L447.94,452.81 L453.30,452.81 L458.71,452.81 L464.04,452.81 L469.14,452.80 L473.86,452.80 L478.05,452.80 L481.58,452.80 L484.30,452.80" fill="none" stroke="#111" stroke-width="1.15"/>
<path d="M350.50,364.20 L350.87,364.20 L351.34,364.20 L351.89,364.20 L352.52,364.20 L353.19,364.19 L353.91,364.19 L354.64,364.20 L355.37,364.20 L356.09,364.22 L356.78,364.24 L357.42,364.26 L358.00,364.30 L358.53,364.34 L359.05,364.38 L359.55,364.42 L360.04,364.46 L360.51,364.51 L360.97,364.57 L361.42,364.64 L361.85,364.71 L362.28,364.81 L362.69,364.92 L363.10,365.05 L363.50,365.20 L363.89,365.37 L364.27,365.57 L364.63,365.78 L364.98,366.01 L365.32,366.25 L365.66,366.51 L365.98,366.77 L366.30,367.05 L366.61,367.33 L366.91,367.62 L367.21,367.91 L367.50,368.20 L367.79,368.50 L368.06,368.80 L368.33,369.11 L368.59,369.43 L368.85,369.76 L369.09,370.09 L369.34,370.43 L369.57,370.77 L369.81,371.12 L370.04,371.48 L370.27,371.84 L370.50,372.20 L370.73,372.57 L370.95,372.95 L371.17,373.34 L371.39,373.73 L371.60,374.13 L371.81,374.54 L372.02,374.95 L372.22,375.36 L372.42,375.77 L372.62,376.18 L372.81,376.59 L373.00,377.00 L373.18,377.40 L373.35,377.78 L373.51,378.16 L373.66,378.53 L373.81,378.90 L373.96,379.27 L374.11,379.67 L374.27,380.07 L374.43,380.51 L374.61,380.97 L374.80,381.46 L375.00,382.00 L375.22,382.58 L375.45,383.21 L375.69,383.87 L375.94,384.56 L376.20,385.27 L376.46,386.01 L376.73,386.75 L377.00,387.50 L377.28,388.24 L377.55,388.98 L377.83,389.70 L378.10,390.40 L378.38,391.09 L378.66,391.79 L378.95,392.48 L379.25,393.18 L379.55,393.88 L379.85,394.57 L380.15,395.25 L380.44,395.93 L380.72,396.59 L380.99,397.25 L381.25,397.88 L381.50,398.50 L381.72,399.08 L381.92,399.61 L382.09,400.10 L382.25,400.57 L382.40,401.03 L382.55,401.49 L382.71,401.97 L382.87,402.47 L383.06,403.01 L383.27,403.61 L383.52,404.26 L383.80,405.00 L384.12,405.83 L384.47,406.75 L384.85,407.75 L385.25,408.80 L385.67,409.89 L386.11,411.00 L386.55,412.12 L387.00,413.23 L387.46,414.30 L387.91,415.34 L388.36,416.31 L388.80,417.20 L389.24,418.03 L389.69,418.84 L390.15,419.62 L390.61,420.37 L391.08,421.10 L391.54,421.79 L392.01,422.46 L392.47,423.09 L392.92,423.69 L393.36,424.26 L393.79,424.80 L394.20,425.30 L394.59,425.75 L394.97,426.15 L395.34,426.51 L395.69,426.82 L396.04,427.10 L396.38,427.36 L396.72,427.60 L397.06,427.83 L397.41,428.05 L397.76,428.29 L398.12,428.53 L398.50,428.80 L398.90,429.09 L399.34,429.39 L399.80,429.70 L400.27,430.01 L400.75,430.32 L401.22,430.62 L401.68,430.91 L402.11,431.18 L402.51,431.43 L402.86,431.66 L403.16,431.85 L403.40,432.00" fill="none" stroke="#111" stroke-width="1.15"/>
<circle cx="350.48" cy="364.20" r="3.30" fill="#fff" stroke="#000" stroke-width="1.2"/>
<circle cx="355.26" cy="369.20" r="3.30" fill="#fff" stroke="#000" stroke-width="1.2"/>
<circle cx="360.04" cy="364.20" r="3.30" fill="#fff" stroke="#000" stroke-width="1.2"/>
<circle cx="364.82" cy="366.60" r="3.30" fill="#fff" stroke="#000" stroke-width="1.2"/>
<circle cx="374.38" cy="381.50" r="3.30" fill="#fff" stroke="#000" stroke-width="1.2"/>
<circle cx="383.94" cy="405.10" r="3.30" fill="#fff" stroke="#000" stroke-width="1.2"/>
<circle cx="398.28" cy="428.50" r="3.30" fill="#fff" stroke="#000" stroke-width="1.2"/>
<circle cx="403.06" cy="432.80" r="3.30" fill="#fff" stroke="#000" stroke-width="1.2"/>
<circle cx="340.92" cy="410.00" r="3.90" fill="#000"/>
<circle cx="350.48" cy="410.00" r="3.90" fill="#000"/>
<circle cx="355.26" cy="422.30" r="3.90" fill="#000"/>
<circle cx="360.04" cy="412.00" r="3.90" fill="#000"/>
<circle cx="364.82" cy="420.80" r="3.90" fill="#000"/>
<circle cx="374.38" cy="440.50" r="3.90" fill="#000"/>
<circle cx="484.32" cy="452.80" r="3.90" fill="#000"/>
</svg>
</body></html>
